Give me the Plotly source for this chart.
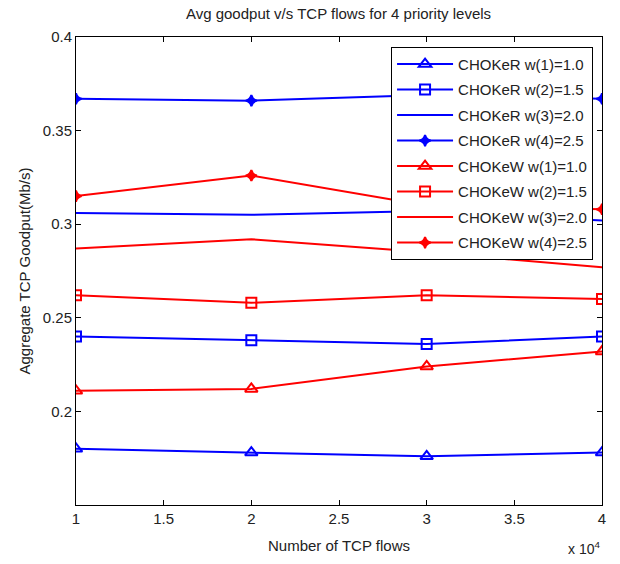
import plotly.graph_objects as go

flows = [1, 2, 3, 4]  # x 10^4

choker_w1 = [0.180, 0.178, 0.176, 0.178]
choker_w2 = [0.240, 0.238, 0.236, 0.240]
choker_w3 = [0.306, 0.305, 0.307, 0.302]
choker_w4 = [0.367, 0.366, 0.369, 0.367]
chokew_w1 = [0.211, 0.212, 0.224, 0.232]
chokew_w2 = [0.262, 0.258, 0.262, 0.260]
chokew_w3 = [0.287, 0.292, 0.285, 0.277]
chokew_w4 = [0.315, 0.326, 0.310, 0.308]

names = ["CHOKeR w(1)=1.0", "CHOKeR w(2)=1.5", "CHOKeR w(3)=2.0", "CHOKeR w(4)=2.5",
         "CHOKeW w(1)=1.0", "CHOKeW w(2)=1.5", "CHOKeW w(3)=2.0", "CHOKeW w(4)=2.5"]
series = [choker_w1, choker_w2, choker_w3, choker_w4,
          chokew_w1, chokew_w2, chokew_w3, chokew_w4]
colors = ["#0000FF"] * 4 + ["#FF0000"] * 4
symbols = ["triangle-up-open", "square-open", None, "star-diamond"] * 2
sizes = [11, 10, 0, 8] * 2

xtick_vals = [1, 1.5, 2, 2.5, 3, 3.5, 4]
xtick_text = ["1", "1.5", "2", "2.5", "3", "3.5", "4"]
ytick_vals = [0.2, 0.25, 0.3, 0.35, 0.4]
ytick_text = ["0.2", "0.25", "0.3", "0.35", "0.4"]

fig = go.Figure()
for i, (name, ys, c, sym, sz) in enumerate(zip(names, series, colors, symbols, sizes)):
    if sym is None:
        fig.add_trace(go.Scatter(x=flows, y=ys, name=name, mode="lines",
                                 legendgroup="g%d" % i,
                                 line=dict(color=c, width=2)))
    else:
        fig.add_trace(go.Scatter(x=flows, y=ys, name=name, mode="lines+markers",
                                 legendgroup="g%d" % i,
                                 line=dict(color=c, width=2),
                                 marker=dict(symbol=sym, size=sz, color=c,
                                             line=dict(color=c, width=2))))

axis_common = dict(showgrid=False, zeroline=False, showline=True, linecolor="black",
                   linewidth=1, mirror="ticks", ticks="inside", ticklen=5,
                   tickcolor="black", tickfont=dict(size=15, color="#222"))

fig.update_layout(
    width=620, height=564,
    margin=dict(l=76, r=18, t=37, b=57),
    paper_bgcolor="white", plot_bgcolor="white",
    font=dict(family="Liberation Sans, Arial, sans-serif", color="#222"),
    title=dict(text="Avg goodput v/s TCP flows for 4 priority levels",
               x=0.546, xanchor="center", y=0.975, yanchor="middle",
               font=dict(size=15, color="#222")),
    xaxis=dict(range=[1, 4], tickvals=xtick_vals, ticktext=xtick_text,
               title=dict(text="Number of TCP flows", font=dict(size=15), standoff=14),
               **axis_common),
    yaxis=dict(range=[0.15, 0.4], tickvals=ytick_vals, ticktext=ytick_text,
               title=dict(text="Aggregate TCP Goodput(Mb/s)", font=dict(size=15), standoff=8),
               **axis_common),
    legend=dict(x=0.983, xanchor="right", y=0.979, yanchor="top",
                bgcolor="white", bordercolor="black", borderwidth=1,
                font=dict(size=15, color="#222"), itemwidth=56,
                tracegroupgap=3),
    showlegend=True,
    annotations=[dict(text="x 10<sup>4</sup>", xref="paper", yref="paper",
                      x=1.0, y=-0.068, xanchor="right", yanchor="top",
                      showarrow=False, font=dict(size=14, color="#222"))],
)

fig.write_html("out.html")
